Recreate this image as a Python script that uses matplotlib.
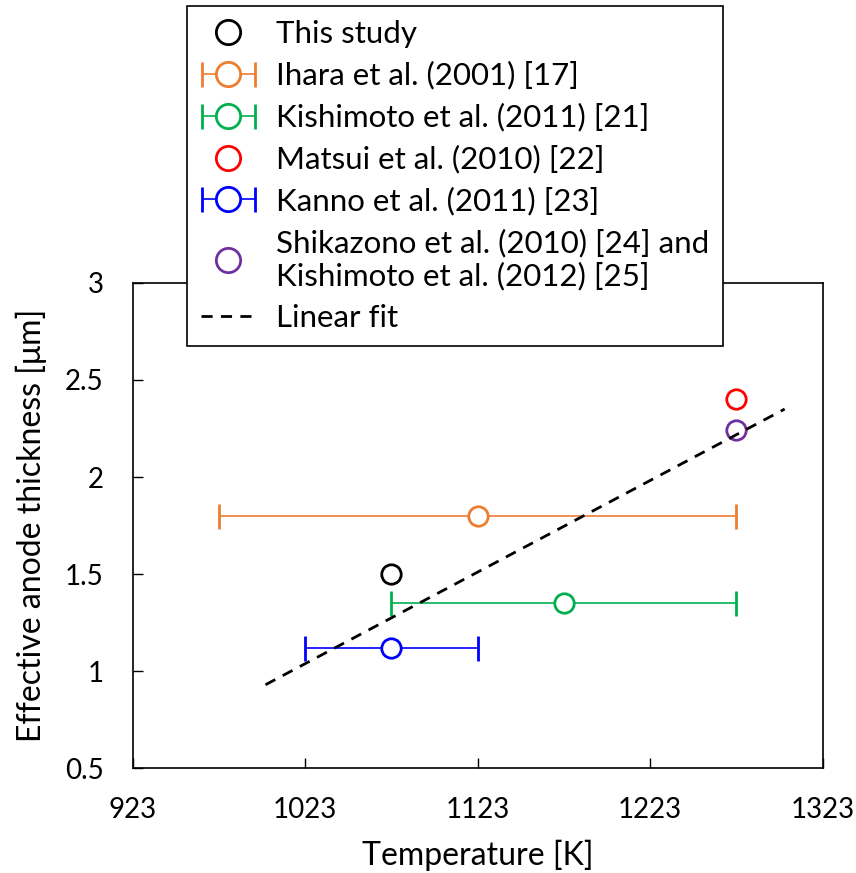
import matplotlib
matplotlib.use("Agg")
import matplotlib.pyplot as plt
from matplotlib.container import ErrorbarContainer
from matplotlib.legend_handler import HandlerErrorbar

plt.rcParams['font.family'] = ['Lato', 'DejaVu Sans']

# data
labels = ["This study", "Ihara et al. (2001) [17]", "Kishimoto et al. (2011) [21]",
          "Matsui et al. (2010) [22]", "Kanno et al. (2011) [23]",
          "Shikazono et al. (2010) [24] and\nKishimoto et al. (2012) [25]"]
temps = [1073, 1123, 1173, 1273, 1073, 1273]
thick = [1.50, 1.80, 1.35, 2.40, 1.12, 2.24]
t_low = [None, 973, 1073, None, 1023, None]
t_high = [None, 1273, 1273, None, 1123, None]
colors = ["black", "#ED7D31", "#00B050", "#FF0000", "#0000FF", "#7030A0"]

fit_x = [1000, 1301]
fit_y = [0.93, 2.35]

x_ticks = [923, 1023, 1123, 1223, 1323]
y_ticks = [0.5, 1, 1.5, 2, 2.5, 3]
y_tick_labels = ["0.5", "1", "1.5", "2", "2.5", "3"]

fig = plt.figure(figsize=(8.56, 8.73), dpi=100)
ax = fig.add_axes([0.155, 0.120, 0.806, 0.556])

handles = []
for i in range(len(labels)):
    if t_low[i] is not None:
        xerr = [[temps[i] - t_low[i]], [t_high[i] - temps[i]]]
        h = ax.errorbar([temps[i]], [thick[i]], xerr=xerr, fmt='o', mfc='white',
                        mec=colors[i], ecolor=colors[i], mew=2, ms=14,
                        elinewidth=1.2, capsize=9, capthick=1.2, label=labels[i])
    else:
        h, = ax.plot([temps[i]], [thick[i]], 'o', mfc='white', mec=colors[i],
                     mew=2, ms=14, linestyle='none', label=labels[i])
    handles.append(h)

fl, = ax.plot(fit_x, fit_y, '--', color='black', lw=2, dashes=(4, 3), label="Linear fit")
handles.append(fl)

ax.set_xlim(923, 1323)
ax.set_ylim(0.5, 3)
ax.set_xticks(x_ticks)
ax.set_yticks(y_ticks)
ax.set_yticklabels(y_tick_labels)
ax.tick_params(direction='in', length=7, width=1, labelsize=20, pad=21, right=False, top=False)
for s in ax.spines.values():
    s.set_linewidth(1.2)
ax.set_xlabel("Temperature [K]", fontsize=23, labelpad=12)
ax.set_ylabel("Effective anode thickness [μm]", fontsize=23, labelpad=13)

leg = fig.legend(handles=handles, labels=labels + ["Linear fit"], loc='upper left',
                 bbox_to_anchor=(187 / 856, 1 - 6 / 873), fontsize=22.5, frameon=True,
                 fancybox=False, edgecolor='black', framealpha=1, handlelength=1.75,
                 handletextpad=0.65, labelspacing=0.42, borderpad=0.45, borderaxespad=0,
                 markerscale=1.25,
                 handler_map={ErrorbarContainer: HandlerErrorbar(xerr_size=0.85)})
leg.get_frame().set_linewidth(1.2)

fig.savefig("out.png", dpi=100)
